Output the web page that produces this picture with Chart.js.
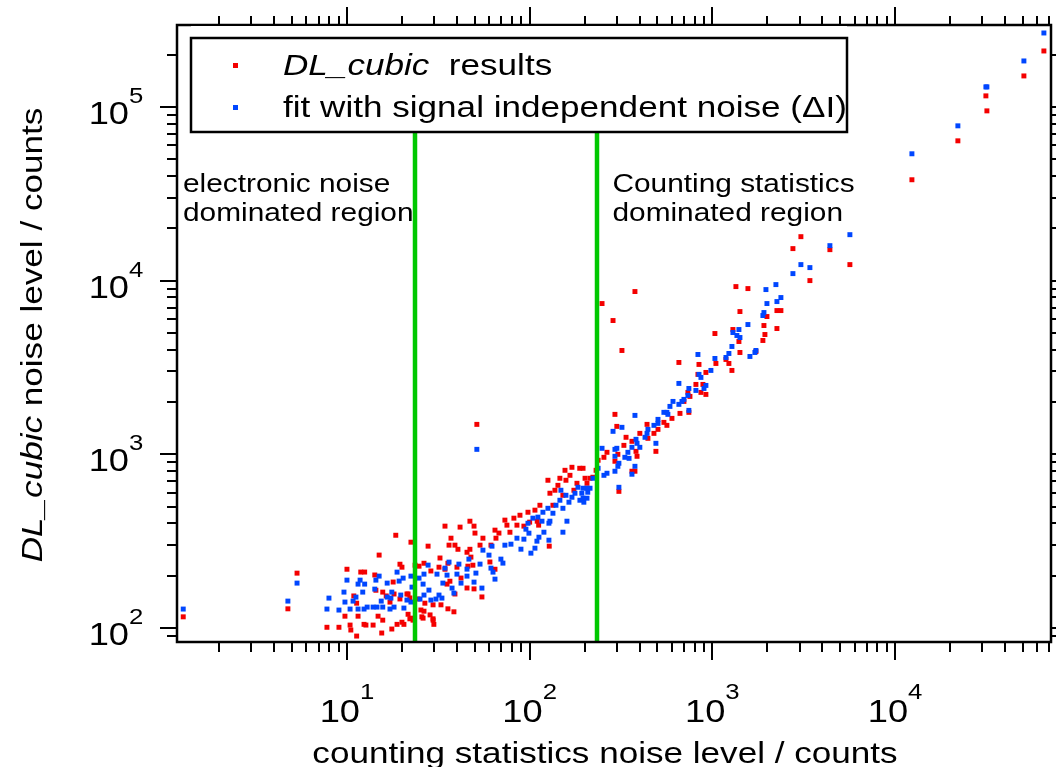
<!DOCTYPE html>
<html>
<head>
<meta charset="utf-8">
<script src="https://cdn.jsdelivr.net/npm/chart.js@4.4.0/dist/chart.umd.min.js"></script>
<style>
  html, body { margin: 0; padding: 0; background: #fff; }
</style>
</head>
<body>
<canvas id="chart" width="1056" height="767"></canvas>
<script>
'use strict';

/* ── Axis ranges and decades ── */
const xRange    = [1.174, 71400];
const yRange    = [83.1, 296000];
const xDecades  = [1, 2, 3, 4];
const yDecades  = [2, 3, 4, 5];
const regionBounds = [23.6, 235];   // green separators (counts)

/* ── DL_cubic results (red) : [counting noise, DL_cubic noise] ── */
const resultPts = [
  [1.27,116],[4.75,129],[5.33,207],[7.77,101],[9.04,101],[9.75,117],[10.4,104],[10.5,97.4],[11.3,89.9],[11.5,117],
  [12.4,105],[12.7,104],[13.9,104],[14.8,117],[15.5,93.6],[15.7,111],[17.6,98.7],[18.8,105],[20.0,108],[20.5,105],
  [21.6,120],[22.1,113],[22.4,312],[18.5,342],[15.0,263],[10.0,218],[10.9,153],[11.3,139],[11.9,210],[12.5,210],
  [14.2,202],[14.4,165],[15.7,161],[16.4,153],[17.9,184],[19.5,233],[20.0,224],[21.6,157],[23.6,230],[24.5,147],
  [25.4,127],[25.7,116],[26.7,139],[26.4,125],[28.5,119],[29.6,113],[29.9,105],[29.6,136],[32.3,253],[32.7,136],
  [35.7,129],[38.5,124],[36.2,300],[37.1,329],[39.0,300],[40.5,284],[34.4,386],[41.6,381],[49.6,386],[50.2,352],
  [47.1,412],[45.4,273],[47.1,284],[55.5,329],[53.5,300],[61.4,300],[65.4,329],[64.6,366],[67.9,352],[75.1,391],
  [78.0,356],[85.2,391],[93.0,386],[100,407],[112,391],[128,296],[110,412],[27.8,296],[35.7,236],[40.0,224],
  [45.9,227],[47.7,256],[54.8,151],[49.6,168],[45.4,170],[39.0,157],[35.3,179],[42.1,194],[48.9,230],[60.6,240],
  [64.6,218],[19.5,147],[18.1,157],[17.2,141],[21.3,157],[22.1,149],[24.8,227],[26.4,236],[28.8,213],[31.9,224],
  [34.4,218],[36.6,186],[29.6,111],[26.1,114],[23.0,111],[22.4,114],[51.4,1487],
  [73.2,418],[82.0,429],[88.5,446],[97.9,464],[106.9,477],[113.8,509],[125.9,709],[129.1,597],[137.5,621],[142.8,663],
  [146.4,728],[152,581],[158,709],[166.2,757],[174.7,621],[181.5,681],[134.1,509],[156.1,809],[170.4,842],
  [3053,17900],[2761,15280],[4400,15070],[5661,12360],[3420,10000],[1346,9236],[1566,8995],[377,8648],[249,7376],[286,5890],
  [1416,6634],[320,3960],[2257,6721],[2373,6721],[1990,6211],[2257,5298],[1916,5513],[1296,5228],[1940,4894],[1891,4521],
  [1398,4461],[1416,3856],[1033,4959],[1732,3908],[656,3379],[845,3291],[1046,3334],[1232,3334],[1187,3516],[1280,3040],
  [922,2960],[834,2884],[813,2525],[888,2525],[866,2272],[922,2212],[754,2154],[735,2272],[699,2016],[665,1720],
  [744,1744],[601,1610],[543,1527],[564,1468],[439,1487],[504,1392],[401,1320],[479,1320],[444,1236],[491,1040],
  [293,1698],[300,1448],[337,1253],[363,1188],[328,1126],[265,1027],[255,961],[304,1000],[387,974],[382,1040],
  [293,912],[363,799],[377,799],[308,612],[196,831],[188,831],[237,924],[201,728],[206,681],[214,728],[222,738],[231,809],
  [65280,209800],[50740,150700],[31430,115700],[31830,94840],[22080,63760],[12370,38060]
];

/* ── fit with signal independent noise (blue) ── */
const fitPts = [
  [1.27,128.6],[4.75,142.9],[5.33,181.4],[7.77,128.6],[7.97,148.7],[9.04,126.9],[9.75,141.1],[9.63,161],[10.0,188.7],[10.4,128.6],
  [10.8,142.9],[11.2,150.7],[11.5,128.6],[11.5,179],[11.8,188.7],[12.2,161],[12.4,128.6],[12.5,179],[12.9,132],[13.9,132],
  [14.4,188.7],[14.2,167.5],[15.0,199],[14.6,132],[15.4,142.9],[15.7,132],[16.6,181.4],[16.6,150.7],[17.2,128.6],[17.4,148.7],
  [17.6,161],[18.1,132],[18.8,209.8],[19.3,186.3],[19.7,154.8],[20.3,193.8],[20.5,130.3],[21.3,144.9],[22.4,141.1],[22.7,172],
  [22.4,199],[24.8,193.8],[25.1,146.8],[26.1,179],[26.4,204.3],[27.8,230.2],[26.4,154.8],[28.1,165.3],[28.8,144.9],[30.7,146.8],
  [31.1,204.3],[31.9,154.8],[33.1,148.7],[33.5,181.4],[34.4,221.2],[35.3,201.6],[36.2,239.6],[37.6,169.8],[38.5,158.9],[40.0,204.3],
  [41.0,233.3],[42.1,181.4],[45.4,199],[45.4,218.3],[46.5,249.3],[49.6,183.8],[50.8,207.1],[53.5,233.3],[55.5,280.7],[54.8,169.8],
  [61.4,221.2],[63.0,209.8],[64.6,191.2],[59.9,262.8],[62.2,295.9],[69.6,249.3],[71.4,236.4],[73.2,299.9],[79.0,303.9],[85.2,329],
  [89.6,284.4],[93.0,324.7],[99.1,351.6],[95.4,370.7],[101.6,269.8],[106.9,288.2],[109.6,316.2],[112.4,333.4],[116.8,412.1],[127.5,401.3],
  [129.1,412.1],[152.1,356.2],[160,412.1],[127.5,320.4],[119.7,356.2],[51.4,1068],
  [97.9,401],[104.2,429],[111,435],[118.2,464],[125.9,489],[134.1,458],[139.3,509],[146.4,544],[152.1,489],[158,581],
  [164.1,530],[170.4,566],[177,597],[183.8,646],[188.4,544],[148.3,621],
  [5661,18380],[4400,15890],[3053,12360],[3420,11880],[2761,10970],[2228,9484],[1965,8878],[2373,7987],[2257,7574],[1990,7376],
  [1916,6547],[1891,6294],[1566,5586],[1398,5228],[1296,5025],[1363,4830],[1416,4703],[1280,4176],[1232,3805],[1187,3610],
  [1732,3960],[1710,3856],[1606,3658],[834,3755],[1033,3563],[982,3040],[845,2884],[866,2771],[656,2559],[922,2492],
  [900,2394],[813,2332],[744,2394],[699,2071],[682,2016],[656,1939],[735,2183],[609,2016],[586,1887],[744,1790],
  [564,1744],[543,1744],[571,1698],[504,1589],[504,1507],[479,1468],[444,1392],[439,1320],[428,1253],[377,1675],
  [320,1430],[286,1356],[491,1157],[401,1097],[382,1220],[387,1157],[363,1097],[345,1027],[332,961],[350,948],
  [300,1083],[293,1068],[293,974],[308,888],[304,853],[293,799],[265,778],[255,757],[377,853],[363,768],
  [249,1083],[308,646],[237,831],[222,728],[214,638],[206,638],[196,638],[193,597],[196,559],[206,559],[198,530],[208,605],
  [65280,266300],[50740,183800],[31430,130300],[31830,130300],[22080,77780],[12370,53700]
];

/* ── Look ── */
const RED   = '#f40000';
const BLUE  = '#0046ff';
const GREEN = '#00c800';
const FONT  = '"Liberation Sans", Arial, sans-serif';
const SX    = 1.17;   // the source text is a little wider than Arial

/* ── Text helpers (runs of plain / italic text, horizontally stretched) ── */
function runFont(r, size) {
  return (r.i ? 'italic ' : '') + size + 'px ' + FONT;
}
function runsWidth(ctx, runs, size) {
  return runs.reduce((w, r) => {
    ctx.font = runFont(r, size);
    return w + ctx.measureText(r.t).width * SX;
  }, 0);
}
function drawRuns(ctx, runs, x, y, size, align, angle) {
  const total = runsWidth(ctx, runs, size);
  let cx = align === 'center' ? -total / 2 : align === 'right' ? -total : 0;
  ctx.save();
  ctx.translate(x, y);
  if (angle) ctx.rotate(angle);
  ctx.fillStyle = '#000';
  ctx.textAlign = 'left';
  ctx.textBaseline = 'alphabetic';
  runs.forEach(r => {
    ctx.font = runFont(r, size);
    const w = ctx.measureText(r.t).width * SX;
    ctx.save();
    ctx.translate(cx, 0);
    ctx.scale(SX, 1);
    ctx.fillText(r.t, 0, 0);
    ctx.restore();
    cx += w;
  });
  ctx.restore();
}

/* ── Green region separators, drawn over the markers ── */
const separatorPlugin = {
  id: 'separators',
  afterDatasetsDraw(chart) {
    const { ctx, chartArea: a, scales: { x } } = chart;
    ctx.save();
    ctx.strokeStyle = GREEN;
    ctx.lineWidth = 4.5;
    ctx.lineCap = 'butt';
    regionBounds.forEach(b => {
      const px = Math.round(x.getPixelForValue(b));
      ctx.beginPath();
      ctx.moveTo(px, a.top);
      ctx.lineTo(px, a.bottom);
      ctx.stroke();
    });
    ctx.restore();
  }
};

/* ── Frame, ticks, labels, legend, notes ── */
const decorPlugin = {
  id: 'decor',
  afterDraw(chart) {
    const { ctx, chartArea: a, scales: { x, y } } = chart;
    ctx.save();

    // frame
    ctx.strokeStyle = '#000';
    ctx.lineWidth = 2.5;
    ctx.strokeRect(a.left, a.top, a.right - a.left, a.bottom - a.top);

    // minor + major ticks on all four sides, pointing outward
    ctx.lineWidth = 2;
    ctx.beginPath();
    for (let d = 0; d <= 5; d++) {
      for (let m = 1; m <= 9; m++) {
        const v = m * Math.pow(10, d);
        const major = m === 1;
        if (v >= xRange[0] && v <= xRange[1]) {
          const px = Math.round(x.getPixelForValue(v));
          ctx.moveTo(px, a.bottom); ctx.lineTo(px, a.bottom + (major ? 18 : 10));
          ctx.moveTo(px, a.top);    ctx.lineTo(px, a.top - (major ? 18 : 9));
        }
        if (v >= yRange[0] && v <= yRange[1]) {
          const py = Math.round(y.getPixelForValue(v));
          ctx.moveTo(a.left, py);  ctx.lineTo(a.left - (major ? 17 : 10), py);
          ctx.moveTo(a.right, py); ctx.lineTo(a.right + (major ? 17 : 10), py);
        }
      }
    }
    ctx.stroke();

    // decade labels 10^n
    xDecades.forEach(e => {
      const px = x.getPixelForValue(Math.pow(10, e));
      const wBase = runsWidth(ctx, [{ t: '10' }], 31);
      const wExp  = runsWidth(ctx, [{ t: String(e) }], 22);
      const start = px - (wBase + wExp) / 2;
      drawRuns(ctx, [{ t: '10' }], start, 722, 31, 'left');
      drawRuns(ctx, [{ t: String(e) }], start + wBase, 699, 22, 'left');
    });
    yDecades.forEach(e => {
      const py = y.getPixelForValue(Math.pow(10, e));
      drawRuns(ctx, [{ t: '10' }], 129, py + 17, 31, 'right');
      drawRuns(ctx, [{ t: String(e) }], 129, py - 4, 22, 'left');
    });

    // axis titles
    drawRuns(ctx, [{ t: 'counting statistics noise level / counts' }], 605, 763, 30, 'center');
    drawRuns(ctx, [{ t: 'DL_cubic', i: true }, { t: ' noise level / counts' }], 42, 335, 30, 'center', -Math.PI / 2);

    // region notes
    const leftX  = a.left + 6;
    const rightX = x.getPixelForValue(regionBounds[1]) + 15;
    drawRuns(ctx, [{ t: 'electronic noise' }], leftX, 192, 25.5, 'left');
    drawRuns(ctx, [{ t: 'dominated region' }], leftX, 221, 25.5, 'left');
    drawRuns(ctx, [{ t: 'Counting statistics' }], rightX, 192, 25.5, 'left');
    drawRuns(ctx, [{ t: 'dominated region' }], rightX, 221, 25.5, 'left');

    // legend box (covers the top of the separators)
    ctx.fillStyle = '#fff';
    ctx.fillRect(191, 26, 656, 106);
    ctx.strokeStyle = '#000';
    ctx.lineWidth = 2.5;
    ctx.strokeRect(191, 38, 656, 94);
    ctx.fillStyle = RED;
    ctx.fillRect(233, 63, 5, 5);
    ctx.fillStyle = BLUE;
    ctx.fillRect(233, 105, 5, 5);
    drawRuns(ctx, [{ t: 'DL_cubic', i: true }, { t: '  results' }], 283, 75, 30, 'left');
    drawRuns(ctx, [{ t: 'fit with signal independent noise (\u0394I)' }], 283, 117, 30, 'left');

    ctx.restore();
  }
};

const toXY = p => ({ x: p[0], y: p[1] });

new Chart(document.getElementById('chart'), {
  type: 'scatter',
  data: {
    datasets: [
      {
        label: 'fit with signal independent noise',
        data: fitPts.map(toXY),
        backgroundColor: BLUE,
        pointStyle: 'rect',
        pointRadius: 3.5,
        borderWidth: 0,
        order: 1,
      },
      {
        label: 'DL_cubic results',
        data: resultPts.map(toXY),
        backgroundColor: RED,
        pointStyle: 'rect',
        pointRadius: 3.5,
        borderWidth: 0,
        order: 2,
      },
    ],
  },
  options: {
    responsive: false,
    devicePixelRatio: 1,
    animation: false,
    events: [],
    layout: { padding: { left: 177, top: 25, right: 5, bottom: 125 } },
    plugins: { legend: { display: false }, tooltip: { enabled: false } },
    scales: {
      x: { type: 'logarithmic', min: xRange[0], max: xRange[1], display: false },
      y: { type: 'logarithmic', min: yRange[0], max: yRange[1], display: false },
    },
  },
  plugins: [separatorPlugin, decorPlugin],
});
</script>
</body>
</html>
